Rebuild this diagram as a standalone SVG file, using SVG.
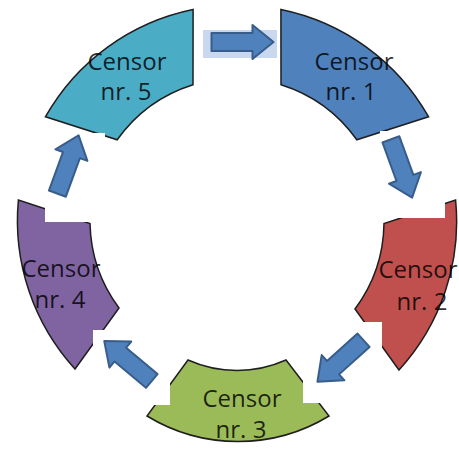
<svg xmlns="http://www.w3.org/2000/svg" width="459" height="450" viewBox="0 0 459 450">
<defs>
<style>
.seg{stroke:#1e1e1e;stroke-width:1.5;stroke-linejoin:miter}
.lbl{font-family:"Open Sans","Liberation Sans",sans-serif;font-size:24px;fill:#000;fill-opacity:0.82;text-anchor:middle}
.arr{fill:#4F81BD;stroke:#385D8A;stroke-width:2;stroke-linejoin:round}
.box{fill:#ffffff}
</style>
<path id="arrow" d="M-31,-9 L10,-9 L10,-17 L31,0 L10,17 L10,9 L-31,9 Z"/>
</defs>
<rect width="459" height="450" fill="#ffffff"/>
<g id="node-censor-1">
<path class="seg" fill="#4F81BD" d="M280.9,9.4 A220,220 0 0 1 428.5,116.7 L356.8,139.8 A147,147 0 0 0 281,84.7 Z"/>
<text class="lbl" x="354" y="70">Censor</text>
<text class="lbl" x="351" y="100">nr. 1</text>
</g>
<g id="node-censor-2">
<path class="seg" fill="#C0504D" d="M455.6,200.1 A220,220 0 0 1 399,370 L355,309 A147,147 0 0 0 384,223.5 Z"/>
<text class="lbl" x="418" y="278">Censor</text>
<text class="lbl" x="422" y="310">nr. 2</text>
</g>
<g id="node-censor-3">
<path class="seg" fill="#9BBB59" d="M329,416 A175,175 0 0 1 147,416 L188,360 A120,120 0 0 0 286,360 Z"/>
<text class="lbl" x="242" y="407">Censor</text>
<text class="lbl" x="241" y="438">nr. 3</text>
</g>
<g id="node-censor-4">
<path class="seg" fill="#8064A2" d="M75,369 A220,220 0 0 1 18.4,200.1 L90,223.5 A147,147 0 0 0 119,308 Z"/>
<text class="lbl" x="61" y="277">Censor</text>
<text class="lbl" x="60" y="308">nr. 4</text>
</g>
<g id="node-censor-5">
<path class="seg" fill="#4BACC6" d="M45.5,116.7 A220,220 0 0 1 193.1,9.4 L193,84.7 A147,147 0 0 0 117.2,139.8 Z"/>
<text class="lbl" x="127" y="70">Censor</text>
<text class="lbl" x="126" y="100">nr. 5</text>
</g>
<g id="connectors">
<g id="arrow-5-1">
<rect x="203" y="30" width="74" height="28" fill="#c9d8ef"/>
<use href="#arrow" class="arr" transform="translate(242.5,42)"/>
</g>
<g id="arrow-1-2">
<rect class="box" x="380" y="131" width="65" height="87"/>
<use href="#arrow" class="arr" transform="translate(401.5,168.5) rotate(70)"/>
</g>
<g id="arrow-2-3">
<rect class="box" x="303" y="322" width="79" height="81"/>
<use href="#arrow" class="arr" transform="translate(340.5,361) rotate(138)"/>
</g>
<g id="arrow-3-4">
<rect class="box" x="93" y="330" width="77" height="75"/>
<use href="#arrow" class="arr" transform="translate(128,361) rotate(220)"/>
</g>
<g id="arrow-4-5">
<rect class="box" x="45" y="133" width="60" height="89"/>
<use href="#arrow" class="arr" transform="translate(68,164.5) rotate(-70)"/>
</g>
</g>
</svg>
